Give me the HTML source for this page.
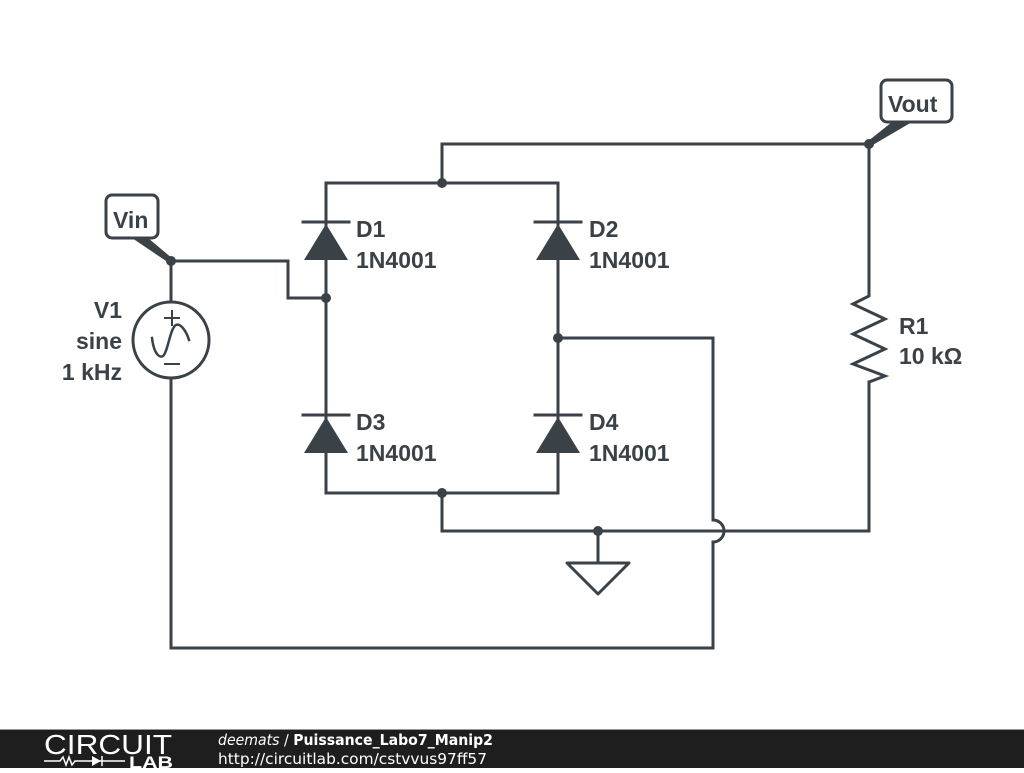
<!DOCTYPE html>
<html><head><meta charset="utf-8"><style>
body{margin:0;background:#fff;width:1024px;height:768px;overflow:hidden}
svg text{font-family:"Liberation Sans",sans-serif;font-weight:bold;fill:#3a4248}
</style></head><body>
<svg width="1024" height="768" xmlns="http://www.w3.org/2000/svg">
<g stroke="#3a4248" stroke-width="3" fill="none" stroke-linecap="square">
<polyline points="442,183 442,144 869,144 869,293"/>
<polyline points="326,183 558,183"/>
<line x1="326" y1="183" x2="326" y2="493"/>
<line x1="558" y1="183" x2="558" y2="493"/>
<polyline points="171,302 171,261 288,261 288,298 326,298"/>
<polyline points="171,378 171,648 713,648 713,542"/>
<path d="M713,520 A11,11 0 0 1 713,542"/>
<polyline points="713,520 713,338 558,338"/>
<line x1="326" y1="493" x2="558" y2="493"/>
<polyline points="442,493 442,531 869,531 869,382"/>
<line x1="598" y1="531" x2="598" y2="563"/>
<polygon points="567,563 629,563 598,594" stroke-linejoin="round"/>
<polyline points="869,293 869,296 853,304 885,319 853,334 885,349 853,364 885,376 869,382" stroke-linejoin="miter" stroke-linecap="butt"/>
<circle cx="171" cy="340" r="38"/>
<line x1="165" y1="318" x2="179" y2="318" stroke-width="2"/>
<line x1="172" y1="311" x2="172" y2="325" stroke-width="2"/>
<line x1="165" y1="364" x2="179" y2="364" stroke-width="2"/>
<path d="M152,338 C154,355 160,358 163,356 C168,352 170,328 176,325 C180,323 186,330 189,340" stroke-width="2.5"/>
<line x1="303" y1="222" x2="349" y2="222"/>
<line x1="535" y1="222" x2="581" y2="222"/>
<line x1="303" y1="415" x2="349" y2="415"/>
<line x1="535" y1="415" x2="581" y2="415"/>
<rect x="106" y="195" width="52" height="43" rx="6" fill="#fff"/>
<rect x="881" y="80" width="71" height="42" rx="6" fill="#fff"/>
</g>
<g fill="#3a4248">
<polygon points="326,224 304,260 348,260"/>
<polygon points="558,224 536,260 580,260"/>
<polygon points="326,417 304,453 348,453"/>
<polygon points="558,417 536,453 580,453"/>
<polygon points="132,238 148,238 173,259 169,263"/>
<polygon points="892,122 912,122 871,146 867,142"/>
<circle cx="171" cy="261" r="5"/>
<circle cx="326" cy="298" r="5"/>
<circle cx="442" cy="183" r="5"/>
<circle cx="869" cy="144" r="5"/>
<circle cx="558" cy="338" r="5"/>
<circle cx="442" cy="493" r="5"/>
<circle cx="598" cy="531" r="5"/>
</g>
<g font-size="23">
<text x="113" y="228">Vin</text>
<text x="888" y="112">Vout</text>
<text x="356" y="237">D1</text><text x="356" y="268">1N4001</text>
<text x="589" y="237">D2</text><text x="589" y="268">1N4001</text>
<text x="356" y="430">D3</text><text x="356" y="461">1N4001</text>
<text x="589" y="430">D4</text><text x="589" y="461">1N4001</text>
<text x="899" y="334">R1</text><text x="899" y="364">10 kΩ</text>
<text x="122" y="318" text-anchor="end">V1</text>
<text x="122" y="349" text-anchor="end">sine</text>
<text x="122" y="380" text-anchor="end">1 kHz</text>
</g>
<rect x="0" y="729" width="1024" height="39" fill="#1e1e1e"/>
<rect x="0" y="729" width="1024" height="1" fill="#999"/>
<text x="44" y="754" font-size="28" textLength="128" lengthAdjust="spacingAndGlyphs" style="font-weight:normal;fill:#fff">CIRCUIT</text>
<text x="129" y="768" font-size="17" textLength="44" lengthAdjust="spacingAndGlyphs" style="fill:#fff">LAB</text>
<polyline points="44,761 60,761 63,757 66,765 69,757 72,765 75,761 90,761 104,761 125,761" stroke="#fff" stroke-width="1.5" fill="none"/>
<polygon points="92,756 92,766 101,761" fill="#fff"/>
<line x1="102" y1="756" x2="102" y2="766" stroke="#fff" stroke-width="1.5"/>
<text x="218" y="745" font-size="15" textLength="275" lengthAdjust="spacingAndGlyphs" style="fill:#fff;font-family:'DejaVu Sans',sans-serif"><tspan style="font-style:italic;font-weight:normal">deemats</tspan><tspan style="font-weight:normal"> / </tspan>Puissance_Labo7_Manip2</text>
<text x="218" y="764" font-size="15" textLength="269" lengthAdjust="spacingAndGlyphs" style="fill:#fff;font-weight:normal;font-family:'DejaVu Sans',sans-serif">http://circuitlab.com/cstvvus97ff57</text>
</svg>
</body></html>
